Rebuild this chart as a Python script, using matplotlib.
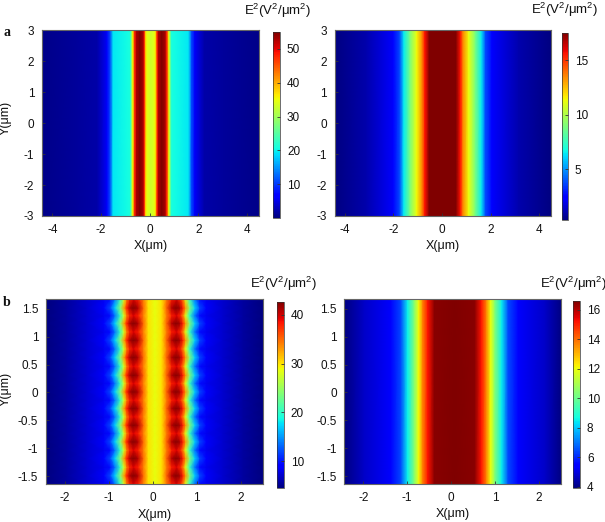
import numpy as np
import matplotlib
matplotlib.use("Agg")
import matplotlib.pyplot as plt

plt.rcParams['font.family'] = ['Liberation Sans', 'DejaVu Sans']
plt.rcParams['mathtext.fontset'] = 'custom'
plt.rcParams['mathtext.rm'] = 'Liberation Sans'
plt.rcParams['mathtext.default'] = 'regular'
plt.rcParams['axes.unicode_minus'] = False

W, H = 605, 522

# Panel a, left: E^2 across X
a1_x = [-4.43, -3.0, -2.15, -1.76, -1.62, -1.50, -0.95, -0.81, -0.75, -0.70, -0.61, -0.54, -0.40, -0.27, -0.21, -0.15, -0.10, 0.05,
        0.20, 0.25, 0.31, 0.37, 0.50, 0.64, 0.71, 0.80, 0.85, 0.91, 1.05, 1.60, 1.72, 1.86, 2.25, 3.05, 4.5]
a1_e = [0.6, 1.5, 2.0, 6.0, 11.0, 19.5, 20.5, 21.0, 27.0, 35.0, 48.0, 53.0, 57.0, 53.0, 48.0, 37.0, 34.5, 33.0,
        34.5, 37.0, 48.0, 53.0, 57.0, 53.0, 48.0, 35.0, 27.0, 21.0, 20.5, 19.5, 11.0, 6.0, 2.0, 1.5, 0.6]

# Panel a, right
a2_x = [-4.41, -3.10, -2.00, -1.73, -1.56, -1.31, -1.04, -0.81, -0.70, -0.52, 0.03, 0.58, 0.76, 0.87, 1.10, 1.37, 1.62, 1.79, 2.06, 3.16, 4.5]
a2_e = [0.4, 1.1, 2.3, 3.8, 6.5, 8.9, 11.3, 13.6, 15.6, 17.6, 19.0, 17.6, 15.6, 13.6, 11.3, 8.9, 6.5, 3.8, 2.3, 1.1, 0.4]

# Panel b, left: profile through a bright lobe and through a neck between lobes
b1_x = [-2.43, -1.96, -1.50, -1.12, -0.97, -0.86, -0.74, -0.65, -0.59, -0.53, -0.44, -0.33, -0.21, -0.10, 0.05,
        0.20, 0.31, 0.43, 0.54, 0.63, 0.69, 0.75, 0.84, 0.96, 1.07, 1.22, 1.60, 2.06, 2.51]
b1_lobe = [4.4, 5.5, 7.0, 9.0, 12.0, 17.0, 24.0, 33.0, 38.0, 41.0, 43.5, 41.0, 35.0, 30.0, 28.5,
           30.0, 35.0, 41.0, 43.5, 41.0, 38.0, 33.0, 24.0, 17.0, 12.0, 9.0, 7.0, 5.5, 4.4]
b1_neck = [4.4, 5.5, 7.0, 8.2, 9.5, 13.5, 20.0, 28.0, 34.0, 37.5, 39.5, 38.0, 34.0, 30.0, 28.5,
           30.0, 34.0, 38.0, 39.5, 37.5, 34.0, 28.0, 20.0, 13.5, 9.5, 8.2, 7.0, 5.5, 4.4]
b1_lobe_y = [-1.493, -1.183, -0.884, -0.585, -0.287, 0.012, 0.31, 0.627, 0.938, 1.237, 1.517]
b1_neck_y = [-1.643, -1.338, -1.034, -0.735, -0.436, -0.138, 0.161, 0.468, 0.782, 1.087, 1.377, 1.68]

# Panel b, right
b2_x = [-2.43, -1.98, -1.37, -1.14, -0.99, -0.84, -0.74, -0.65, -0.53, -0.38, 0.08, 0.54, 0.69, 0.81, 0.90, 1.00, 1.15, 1.30, 1.53, 2.14, 2.51]
b2_e = [3.9, 4.7, 5.3, 6.4, 8.5, 10.3, 12.0, 13.6, 15.2, 16.5, 17.0, 16.5, 15.2, 13.6, 12.0, 10.3, 8.5, 6.4, 5.3, 4.7, 3.9]

a_xticks = [-4, -2, 0, 2, 4]
a_yticks = [-3, -2, -1, 0, 1, 2, 3]
b_xticks = [-2, -1, 0, 1, 2]
b_yticks = [-1.5, -1, -0.5, 0, 0.5, 1, 1.5]
b_ylabels = ['-1.5', '-1', '-0.5', '0', '0.5', '1', '1.5']
cb_ticks = [[10, 20, 30, 40, 50], [5, 10, 15], [10, 20, 30, 40], [4, 6, 8, 10, 12, 14, 16]]
climits = [(0.0, 55.0), (0.37, 17.5), (4.4, 42.7), (3.9, 16.6)]
cbar_title = 'E$^2$(V$^2$/\u03bcm$^2$)'
xlabel = 'X(\u03bcm)'
ylabel = 'Y(\u03bcm)'

fig = plt.figure(figsize=(W / 100, H / 100), dpi=100)


def rect(x0, y0, x1, y1):
    return [x0 / W, 1 - y1 / H, (x1 - x0) / W, (y1 - y0) / H]


def panel(box, cbox, x, y, Z, lims, xlim, ylim, xticks, yticks, cticks, tx, ty, ylabels=None, yl_y=None, xl_y=0):
    ax = fig.add_axes(rect(*box))
    m = ax.pcolormesh(x, y, Z, shading='gouraud', cmap='jet', vmin=lims[0], vmax=lims[1], rasterized=True)
    ax.set_xlim(*xlim)
    ax.set_ylim(*ylim)
    ax.set_xticks(xticks)
    ax.set_yticks(yticks)
    if ylabels:
        ax.set_yticklabels(ylabels)
    ax.tick_params(direction='in', length=2, width=0.6, labelsize=8.5, pad=5.5, color='#333333', labelcolor='#111111')
    for s in ax.spines.values():
        s.set_linewidth(0.8)
        s.set_color('#666666')
    fig.text((box[0] + box[2]) / 2 / W, 1 - xl_y / H, xlabel, ha='center', va='center', fontsize=9, color='#111111')
    if yl_y is not None:
        fig.text(6 / W, 1 - yl_y / H, ylabel, rotation=90, ha='center', va='center', fontsize=9, color='#111111')
    cax = fig.add_axes(rect(*cbox))
    cb = fig.colorbar(m, cax=cax)
    cb.set_ticks(cticks)
    cb.ax.tick_params(direction='in', length=2, width=0.6, labelsize=8.5, pad=5, color='#333333', labelcolor='#111111')
    cb.outline.set_linewidth(0.5)
    cb.outline.set_edgecolor('#333333')
    fig.text(tx / W, 1 - ty / H, cbar_title, ha='center', va='center', fontsize=9.5, color='#111111')


y_a = [-3, 3]
panel((42, 30.5, 259, 216), (272.7, 32, 280, 218), a1_x, y_a, np.vstack([a1_e, a1_e]), climits[0],
      (-4.43, 4.5), (-3, 3), a_xticks, a_yticks, cb_ticks[0], 277.7, 10.5, yl_y=118, xl_y=246)
panel((334.7, 30.5, 551.3, 216), (562, 32.7, 568, 220), a2_x, y_a, np.vstack([a2_e, a2_e]), climits[1],
      (-4.41, 4.5), (-3, 3), a_xticks, a_yticks, cb_ticks[1], 564, 9.5, xl_y=246)

b1_rows = sorted([(v, b1_lobe) for v in b1_lobe_y] + [(v, b1_neck) for v in b1_neck_y], key=lambda r: r[0])
b1_y = [r[0] for r in b1_rows]
b1_Z = np.array([r[1] for r in b1_rows])
panel((46, 298.7, 263, 484), (276.7, 301.7, 283.7, 488.3), b1_x, b1_y, b1_Z, climits[2],
      (-2.43, 2.51), (-1.643, 1.68), b_xticks, b_yticks, cb_ticks[2], 283, 284, ylabels=b_ylabels, yl_y=389, xl_y=515)
panel((344.3, 298.7, 561.3, 484), (573, 300.7, 580, 488), b2_x, [-1.643, 1.68], np.vstack([b2_e, b2_e]), climits[3],
      (-2.43, 2.51), (-1.643, 1.68), b_xticks, b_yticks, cb_ticks[3], 573, 284, ylabels=b_ylabels, xl_y=514)

fig.text(7 / W, 1 - 33 / H, 'a', family='Liberation Serif', weight='bold', fontsize=10, ha='center', va='center', color='#111111')
fig.text(7 / W, 1 - 303 / H, 'b', family='Liberation Serif', weight='bold', fontsize=10, ha='center', va='center', color='#111111')

fig.savefig('out.png', dpi=100)
